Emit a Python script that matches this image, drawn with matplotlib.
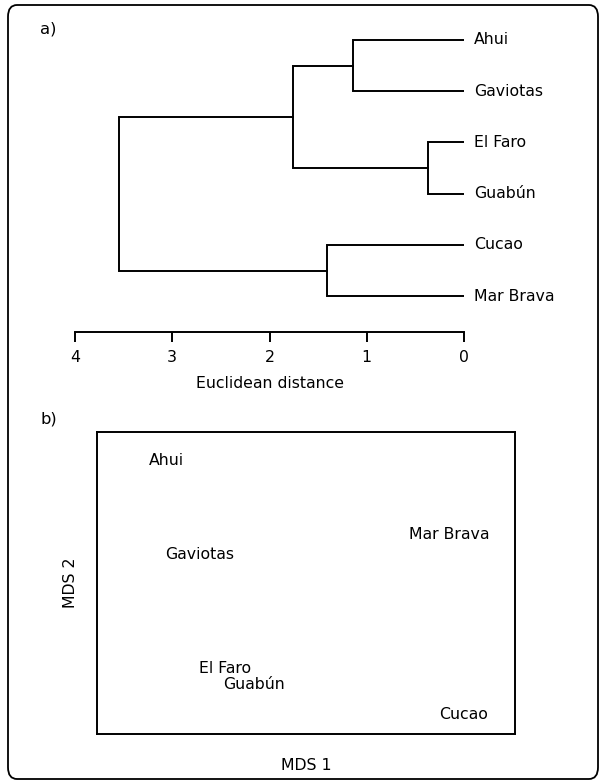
import matplotlib
matplotlib.use("Agg")
import matplotlib.pyplot as plt
from matplotlib.patches import FancyBboxPatch

# dendrogram data (Euclidean distance)
sites = ["Ahui", "Gaviotas", "El Faro", "Guabún", "Cucao", "Mar Brava"]
# (left node, right node, height); nodes >= 6 are earlier merges
merges = [(0, 1, 1.14), (2, 3, 0.37), (4, 5, 1.41), (6, 7, 1.76), (9, 8, 3.55)]
dist_ticks = [4, 3, 2, 1, 0]

# MDS coordinates (same order as sites)
mds_x = [-1.00, -0.76, -0.58, -0.37, 1.13, 1.03]
mds_y = [1.22, 0.28, -0.85, -1.01, -1.31, 0.48]

W, H = 601, 782
fig = plt.figure(figsize=(W / 100, H / 100), dpi=100)
fs = 11.3


def box(l, t, r, b):
    return [l / W, 1 - b / H, (r - l) / W, (b - t) / H]


# outer rounded frame
frame = FancyBboxPatch((8 / W, 3 / H), (590 / W), (774 / H),
                       boxstyle="round,pad=0,rounding_size=0.015",
                       transform=fig.transFigure, fill=False, lw=1.3,
                       edgecolor="black")
fig.patches.append(frame)

# ---- a) dendrogram ----
ax1 = fig.add_axes(box(75, 20, 464, 332))
pos = {i: (0.0, 5 - i) for i in range(len(sites))}
for k, (a, b, h) in enumerate(merges):
    xa, ya = pos[a]
    xb, yb = pos[b]
    ax1.plot([xa, h, h, xb], [ya, ya, yb, yb], color="black", lw=1.4,
             solid_joinstyle="miter")
    pos[len(sites) + k] = (h, (ya + yb) / 2)
for i, s in enumerate(sites):
    ax1.text(-0.1, 5 - i, s, ha="left", va="center", fontsize=fs,
             clip_on=False)
ax1.set_xlim(4, 0)
ax1.set_ylim(-0.70, 5.39)
for sp in ["top", "left", "right"]:
    ax1.spines[sp].set_visible(False)
ax1.spines["bottom"].set_linewidth(1.4)
ax1.set_yticks([])
ax1.set_xticks(dist_ticks)
ax1.set_xticklabels([str(t) for t in dist_ticks], fontsize=fs)
ax1.tick_params(axis="x", length=7, width=1.4, pad=6)
ax1.set_xlabel("Euclidean distance", fontsize=fs, labelpad=8)
fig.text(40 / W, 1 - 29 / H, "a)", fontsize=fs + 0.5, ha="left", va="center")

# ---- b) MDS ----
ax2 = fig.add_axes(box(97, 432, 515, 734))
for s, x, y in zip(sites, mds_x, mds_y):
    ax2.text(x, y, s, ha="center", va="center", fontsize=fs)
ax2.set_xlim(-1.5, 1.5)
ax2.set_ylim(-1.5, 1.5)
ax2.set_xticks([])
ax2.set_yticks([])
for sp in ax2.spines.values():
    sp.set_linewidth(1.4)
ax2.set_xlabel("MDS 1", fontsize=fs, labelpad=17)
ax2.set_ylabel("MDS 2", fontsize=fs, labelpad=14)
fig.text(40 / W, 1 - 419 / H, "b)", fontsize=fs + 0.5, ha="left", va="center")

fig.savefig("out.png", dpi=100)
